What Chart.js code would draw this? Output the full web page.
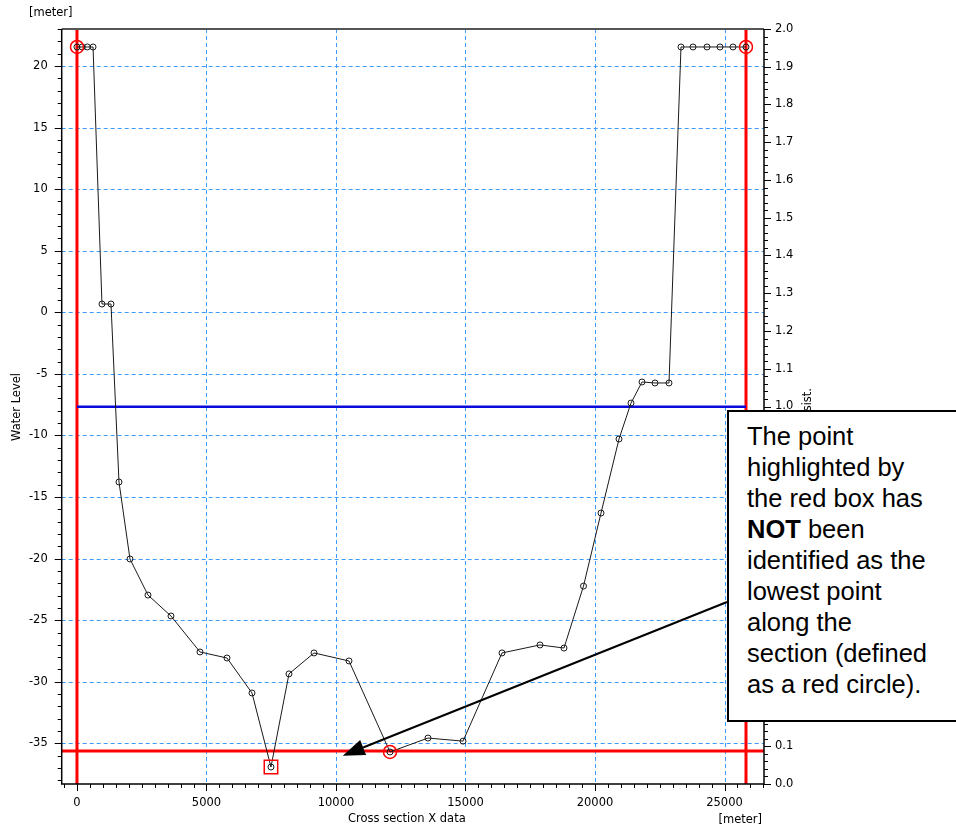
<!DOCTYPE html>
<html>
<head>
<meta charset="utf-8">
<script src="https://cdn.jsdelivr.net/npm/chart.js@4.4.1/dist/chart.umd.min.js"></script>
<style>
  html, body { margin: 0; padding: 0; background: #fff; overflow: hidden; }
  #wrap { position: relative; width: 956px; height: 829px; overflow: hidden; }
  #note {
    position: absolute; left: 727px; top: 410px; width: 260px; height: 312px;
    box-sizing: border-box; border: 2px solid #000; background: #fff;
    padding: 9px 0 0 18px; white-space: nowrap;
    font-family: "Liberation Sans", Arial, sans-serif; font-size: 25.5px; line-height: 31px; color: #000;
  }
</style>
</head>
<body>
<div id="wrap">
  <canvas id="chartSection" width="956" height="829"></canvas>
  <div id="note">The point<br>highlighted by<br>the red box has<br><b>NOT</b> been<br>identified as the<br>lowest point<br>along the<br>section (defined<br>as a red circle).</div>
</div>
<script>
// dades de la secció transversal (llegides de la imatge)
const sectionX = [0, 200, 400, 620, 965, 1313, 1622, 2046, 2741, 3629, 4749, 5792, 6757, 7490, 8185, 9151,
  10502, 12085, 13552, 14904, 16409, 17876, 18803, 19556, 20232, 20927, 21390, 21815, 22317, 22857,
  23320, 23784, 24324, 24826, 25328, 25830];
const waterLevel = [21.54, 21.54, 21.54, 21.54, 0.67, 0.67, -13.78, -20.03, -22.96, -24.66, -27.58, -28.07, -30.91, -36.92, -29.36, -27.66,
  -28.31, -35.70, -34.57, -34.82, -27.66, -27.01, -27.26, -22.23, -16.30, -10.29, -7.37, -5.66, -5.74, -5.74,
  21.54, 21.54, 21.54, 21.54, 21.54, 21.54];

const circleIdx = [0, 17, 35];   // punts marcats amb cercle vermell
const boxIdx = [13];             // punt marcat amb quadrat vermell

const xTicks = [0, 5000, 10000, 15000, 20000, 25000];
const yTicks = [20, 15, 10, 5, 0, -5, -10, -15, -20, -25, -30, -35];
const resistTicks = [0.0, 0.1, 0.2, 0.3, 0.4, 0.5, 0.6, 0.7, 0.8, 0.9, 1.0, 1.1, 1.2, 1.3, 1.4, 1.5, 1.6, 1.7, 1.8, 1.9, 2.0];

// línies de referència
const leftMarker = 0;
const rightMarker = 25830;
const lowestLine = -35.62;
const waterSurface = -7.67;
const arrowTip = { x: 10260, y: -36.0 };

const xMin = -590, xMax = 26525;
const yMin = -38.3, yMax = 23.0;

const FONT = '"DejaVu Sans", Verdana, sans-serif';
Chart.defaults.font.family = FONT;
Chart.defaults.font.size = 11.5;
Chart.defaults.color = '#000';

const sectionAxes = {
  id: 'sectionAxes',
  beforeDatasetsDraw(chart) {
    const ctx = chart.ctx, a = chart.chartArea;
    const sx = chart.scales.x, sy = chart.scales.y;
    ctx.save();
    // graella
    ctx.strokeStyle = '#3d9bff';
    ctx.lineWidth = 1;
    ctx.setLineDash([4, 3]);
    xTicks.forEach(v => {
      const px = Math.round(sx.getPixelForValue(v)) + 0.5;
      ctx.beginPath(); ctx.moveTo(px, a.top); ctx.lineTo(px, a.bottom); ctx.stroke();
    });
    yTicks.forEach(v => {
      const py = Math.round(sy.getPixelForValue(v)) + 0.5;
      ctx.beginPath(); ctx.moveTo(a.left, py); ctx.lineTo(a.right, py); ctx.stroke();
    });
    ctx.setLineDash([]);
    // línies vermelles i blava
    ctx.strokeStyle = '#ff0000';
    ctx.lineWidth = 3;
    [leftMarker, rightMarker].forEach(v => {
      const px = sx.getPixelForValue(v);
      ctx.beginPath(); ctx.moveTo(px, a.top); ctx.lineTo(px, a.bottom); ctx.stroke();
    });
    let py = sy.getPixelForValue(lowestLine);
    ctx.beginPath(); ctx.moveTo(a.left, py); ctx.lineTo(a.right, py); ctx.stroke();
    ctx.strokeStyle = '#0a0adc';
    ctx.lineWidth = 2.5;
    py = sy.getPixelForValue(waterSurface);
    ctx.beginPath(); ctx.moveTo(sx.getPixelForValue(leftMarker), py); ctx.lineTo(sx.getPixelForValue(rightMarker), py); ctx.stroke();
    ctx.restore();
  },
  afterDraw(chart) {
    const ctx = chart.ctx, a = chart.chartArea;
    const sx = chart.scales.x, sy = chart.scales.y, sr = chart.scales.y2;
    ctx.save();
    // eixos
    ctx.strokeStyle = '#555';
    ctx.lineWidth = 2;
    ctx.beginPath(); ctx.moveTo(a.left, a.top); ctx.lineTo(a.right, a.top); ctx.stroke();
    ctx.strokeStyle = '#000';
    ctx.lineWidth = 1.5;
    ctx.beginPath();
    ctx.moveTo(a.left, a.top); ctx.lineTo(a.left, a.bottom); ctx.lineTo(a.right, a.bottom); ctx.lineTo(a.right, a.top);
    ctx.stroke();
    // marques
    ctx.lineWidth = 1;
    ctx.beginPath();
    for (let v = Math.ceil(yMin); v <= yMax; v++) {
      const py = Math.round(sy.getPixelForValue(v)) + 0.5;
      const len = v % 5 === 0 ? 7 : 4;
      ctx.moveTo(a.left - len, py); ctx.lineTo(a.left, py);
    }
    for (let v = -500; v <= xMax; v += 500) {
      const px = Math.round(sx.getPixelForValue(v)) + 0.5;
      const len = v % 5000 === 0 ? 7 : 4;
      ctx.moveTo(px, a.bottom); ctx.lineTo(px, a.bottom + len);
    }
    for (let i = 0; i <= 100; i++) {
      const py = Math.round(sr.getPixelForValue(i * 0.02)) + 0.5;
      const len = i % 5 === 0 ? 7 : 4;
      ctx.moveTo(a.right, py); ctx.lineTo(a.right + len, py);
    }
    ctx.stroke();
    // títols
    ctx.fillStyle = '#000';
    ctx.font = '11.5px ' + FONT;
    ctx.textBaseline = 'middle';
    ctx.textAlign = 'left';
    ctx.fillText('[meter]', 29, 13);
    ctx.fillText('Cross section X data', 348, 819);
    ctx.textAlign = 'right';
    ctx.fillText('[meter]', 762, 820);
    ctx.save();
    ctx.translate(17, 407); ctx.rotate(-Math.PI / 2);
    ctx.textAlign = 'center';
    ctx.fillText('Water Level', 0, 0);
    ctx.restore();
    ctx.save();
    ctx.translate(808, 388); ctx.rotate(-Math.PI / 2);
    ctx.textAlign = 'right';
    ctx.fillText('Rel. resist.', 0, 0);
    ctx.restore();
    // fletxa
    const tx = sx.getPixelForValue(arrowTip.x), ty = sy.getPixelForValue(arrowTip.y);
    const fx = 727, fy = 602;
    const ang = Math.atan2(ty - fy, tx - fx);
    const headLen = 22, headW = 8;
    const bx = tx - headLen * Math.cos(ang), by = ty - headLen * Math.sin(ang);
    ctx.strokeStyle = '#000';
    ctx.lineWidth = 2;
    ctx.beginPath(); ctx.moveTo(fx, fy); ctx.lineTo(bx, by); ctx.stroke();
    ctx.fillStyle = '#000';
    ctx.beginPath();
    ctx.moveTo(tx, ty);
    ctx.lineTo(bx + headW * Math.sin(ang), by - headW * Math.cos(ang));
    ctx.lineTo(bx - headW * Math.sin(ang), by + headW * Math.cos(ang));
    ctx.closePath();
    ctx.fill();
    ctx.restore();
  }
};

const punts = sectionX.map((x, i) => ({ x: x, y: waterLevel[i] }));

new Chart(document.getElementById('chartSection'), {
  type: 'scatter',
  data: {
    datasets: [
      {
        label: 'Cross section',
        data: punts,
        showLine: true,
        borderColor: '#1a1a1a',
        borderWidth: 1,
        pointRadius: 3,
        pointBorderWidth: 1,
        pointBorderColor: '#1a1a1a',
        pointBackgroundColor: 'rgba(0,0,0,0)',
        order: 2
      },
      {
        label: 'Lowest / ends',
        data: circleIdx.map(i => punts[i]),
        pointStyle: 'circle',
        pointRadius: 6.5,
        pointBorderWidth: 1.5,
        pointBorderColor: '#ff0000',
        pointBackgroundColor: 'rgba(0,0,0,0)',
        order: 1
      },
      {
        label: 'Red box',
        data: boxIdx.map(i => punts[i]),
        pointStyle: 'rect',
        pointRadius: 9.5,
        pointBorderWidth: 1.5,
        pointBorderColor: '#ff0000',
        pointBackgroundColor: 'rgba(0,0,0,0)',
        order: 1
      }
    ]
  },
  options: {
    responsive: false,
    animation: false,
    devicePixelRatio: 1,
    layout: { padding: { top: 29, left: 0, right: 0, bottom: 0 } },
    plugins: { legend: { display: false }, tooltip: { enabled: false } },
    scales: {
      x: {
        type: 'linear',
        min: xMin, max: xMax,
        afterBuildTicks: s => { s.ticks = xTicks.map(v => ({ value: v })); },
        afterFit: s => { s.height = 45; },
        ticks: { padding: 12, maxRotation: 0, autoSkip: false, callback: v => String(v) },
        grid: { display: false, drawTicks: false },
        border: { display: false }
      },
      y: {
        type: 'linear',
        position: 'left',
        min: yMin, max: yMax,
        afterBuildTicks: s => { s.ticks = yTicks.map(v => ({ value: v })); },
        afterFit: s => { s.width = 61.7; },
        ticks: { padding: 14, autoSkip: false, callback: v => String(v) },
        grid: { display: false, drawTicks: false },
        border: { display: false }
      },
      y2: {
        type: 'linear',
        position: 'right',
        min: 0, max: 2,
        afterBuildTicks: s => { s.ticks = resistTicks.map(v => ({ value: v })); },
        afterFit: s => { s.width = 192; },
        ticks: { padding: 11, autoSkip: false, callback: v => v.toFixed(1) },
        grid: { display: false, drawTicks: false },
        border: { display: false }
      }
    }
  },
  plugins: [sectionAxes]
});
</script>
</body>
</html>
